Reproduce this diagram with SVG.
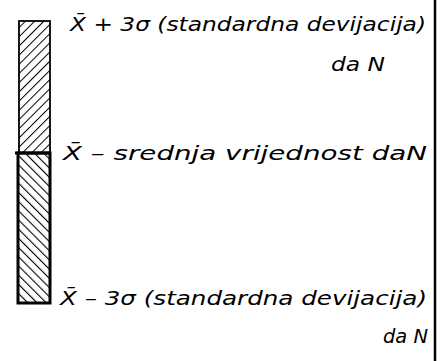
<svg xmlns="http://www.w3.org/2000/svg" width="442" height="361" viewBox="0 0 442 361">
<style>
.t{font-family:"DejaVu Sans",sans-serif;font-style:oblique;font-size:19px;fill:#000}
</style>
<defs>
<pattern id="hUp" width="6.5" height="6.5" patternUnits="userSpaceOnUse" patternTransform="rotate(45)">
<line x1="0" y1="0" x2="0" y2="6.5" stroke="#000" stroke-width="2"/>
</pattern>
<pattern id="hDown" width="6.5" height="6.5" patternUnits="userSpaceOnUse" patternTransform="rotate(-45)">
<line x1="0" y1="0" x2="0" y2="6.5" stroke="#000" stroke-width="2.2"/>
</pattern>
</defs>
<rect width="442" height="361" fill="#fff"/>
<g id="bar">
<rect x="19" y="21" width="31" height="132" fill="url(#hUp)" stroke="#000" stroke-width="1.8"/>
<rect x="18" y="153" width="32" height="150" fill="url(#hDown)" stroke="#000" stroke-width="3"/>
<line x1="15" y1="153" x2="51" y2="153" stroke="#000" stroke-width="3"/>
</g>
<g id="frame">
<line x1="435" y1="0" x2="435" y2="361" stroke="#000" stroke-width="2.5"/>
</g>
<g id="labels">
<text class="t" x="70" y="31" textLength="356" lengthAdjust="spacingAndGlyphs">X̄ + 3σ (standardna devijacija)</text>
<text class="t" x="331" y="71" textLength="54" lengthAdjust="spacingAndGlyphs">da N</text>
<text class="t" x="63" y="160" textLength="364" lengthAdjust="spacingAndGlyphs">X̄ – srednja vrijednost daN</text>
<text class="t" x="60" y="305" textLength="367" lengthAdjust="spacingAndGlyphs">X̄ – 3σ (standardna devijacija)</text>
<text class="t" x="383" y="343" textLength="45" lengthAdjust="spacingAndGlyphs">da N</text>
</g>
</svg>
